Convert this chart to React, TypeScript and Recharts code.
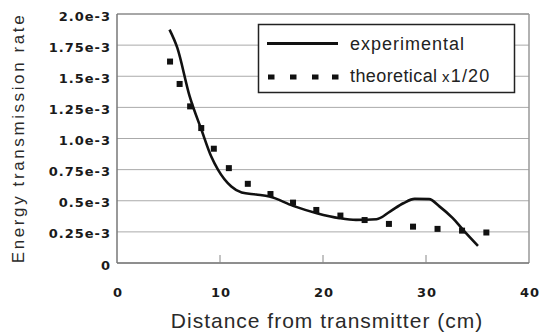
import { CartesianGrid, ComposedChart, Line, ReferenceLine, Scatter, XAxis, YAxis } from "recharts";

// distance (cm) vs energy transmission rate (in units of 1e-3)
const experimental = [
  { x: 5.1, y: 1.875 },
  { x: 5.85, y: 1.73 },
  { x: 7.05, y: 1.34 },
  { x: 8.2, y: 1.07 },
  { x: 9.15, y: 0.855 },
  { x: 9.8, y: 0.75 },
  { x: 11.1, y: 0.614 },
  { x: 12.1, y: 0.566 },
  { x: 13.5, y: 0.55 },
  { x: 14.8, y: 0.534 },
  { x: 17.1, y: 0.459 },
  { x: 19.4, y: 0.4 },
  { x: 21.6, y: 0.36 },
  { x: 23.2, y: 0.346 },
  { x: 25.2, y: 0.352 },
  { x: 26.5, y: 0.413 },
  { x: 27.8, y: 0.48 },
  { x: 28.9, y: 0.515 },
  { x: 30.3, y: 0.513 },
  { x: 31.3, y: 0.455 },
  { x: 32.6, y: 0.36 },
  { x: 33.6, y: 0.266 },
  { x: 35.05, y: 0.137 },
];

const theoretical = [
  { x: 5.15, y: 1.618 },
  { x: 6.08, y: 1.438 },
  { x: 7.1, y: 1.258 },
  { x: 8.18, y: 1.084 },
  { x: 9.4, y: 0.918 },
  { x: 10.86, y: 0.762 },
  { x: 12.7, y: 0.636 },
  { x: 14.9, y: 0.554 },
  { x: 17.09, y: 0.485 },
  { x: 19.35, y: 0.426 },
  { x: 21.69, y: 0.381 },
  { x: 24.04, y: 0.345 },
  { x: 26.4, y: 0.314 },
  { x: 28.74, y: 0.292 },
  { x: 31.12, y: 0.274 },
  { x: 33.5, y: 0.26 },
  { x: 35.86, y: 0.245 },
];

const xTicks = [0, 10, 20, 30, 40];
const yTicks = [0, 0.25, 0.5, 0.75, 1.0, 1.25, 1.5, 1.75, 2.0];
const yTickLabels = ["0", "0.25e-3", "0.5e-3", "0.75e-3", "1.0e-3", "1.25e-3", "1.5e-3", "1.75e-3", "2.0e-3"];

const font = "'Liberation Sans', Arial, sans-serif";
const tickFont = "'DejaVu Sans', sans-serif";

const XTick = (props: any) => {
  const { x, y, payload } = props;
  const inner = payload.value > 0 && payload.value < 40;
  return (
    <g>
      {inner && <line x1={x} x2={x} y1={y} y2={y - 8} stroke="#888" strokeWidth={1} />}
      <text x={x + 1} y={y + 34} textAnchor="middle" fontFamily={tickFont} fontWeight="bold" fontSize={13} letterSpacing={1} fill="#1a1a1a">
        {payload.value}
      </text>
    </g>
  );
};

const YTick = (props: any) => {
  const { x, y, payload } = props;
  const i = yTicks.indexOf(payload.value);
  return (
    <text x={x - 6} y={y + 6.5} textAnchor="end" fontFamily={tickFont} fontWeight="bold" fontSize={13} letterSpacing={1} fill="#1a1a1a">
      {yTickLabels[i]}
    </text>
  );
};

const Square = (props: any) => {
  const { cx, cy } = props;
  return <rect x={cx - 3} y={cy - 3} width={6} height={6} fill="#111" />;
};

export default function App() {
  return (
    <div style={{ position: "absolute", left: 0, top: 0, width: 542, height: 335, background: "#fff" }}>
      <ComposedChart width={542} height={335} margin={{ top: 14, right: 13, bottom: 32, left: 0 }}>
        <CartesianGrid vertical={false} stroke="#aaa" strokeWidth={1} />
        <XAxis
          type="number"
          dataKey="x"
          domain={[0, 40]}
          ticks={xTicks}
          height={40}
          tickSize={0}
          tickMargin={0}
          tick={<XTick />}
          stroke="#777"
          strokeWidth={1.5}
          interval={0}
        />
        <YAxis
          type="number"
          dataKey="y"
          domain={[0, 2]}
          ticks={yTicks}
          width={117}
          tickSize={0}
          tickMargin={0}
          tick={<YTick />}
          stroke="#777"
          strokeWidth={1.5}
          interval={0}
        />
        <ReferenceLine x={40} stroke="#999" strokeWidth={1.5} />
        <ReferenceLine y={2} stroke="#999" strokeWidth={1.5} />
        <Scatter data={theoretical} dataKey="y" shape={<Square />} isAnimationActive={false} />
        <Line
          data={experimental}
          dataKey="y"
          type="monotone"
          stroke="#111"
          strokeWidth={2.6}
          dot={false}
          activeDot={false}
          isAnimationActive={false}
        />
      </ComposedChart>
      <svg width={542} height={335} style={{ position: "absolute", left: 0, top: 0, pointerEvents: "none" }}>
        <text
          transform="translate(24,138) rotate(-90)"
          textAnchor="middle"
          fontFamily={font}
          fontSize={17}
          letterSpacing={2.6}
          fill="#2a2a2a"
        >
          Energy transmission rate
        </text>
        <text x={327} y={328} textAnchor="middle" fontFamily={font} fontSize={21} letterSpacing={1} fill="#2a2a2a">
          Distance from transmitter (cm)
        </text>
        <rect x={258.5} y={24.5} width={256} height={68} fill="#fff" stroke="#222" strokeWidth={1.5} />
        <line x1={267} x2={338} y1={43.5} y2={43.5} stroke="#111" strokeWidth={2.8} />
        <text x={350} y={49.5} fontFamily={font} fontSize={18} letterSpacing={1} fill="#222">
          experimental
        </text>
        {[268, 290, 312, 332].map((sx) => (
          <rect key={sx} x={sx} y={74.5} width={6.5} height={5} fill="#111" />
        ))}
        <text x={350} y={82} fontFamily={font} fontSize={18} letterSpacing={0.4} fill="#222">
          theoretical
        </text>
        <text x={442} y={82} fontFamily={font} fontSize={18} letterSpacing={1.2} fill="#222">
          <tspan fontSize={15}>x</tspan>1/20
        </text>
      </svg>
    </div>
  );
}
